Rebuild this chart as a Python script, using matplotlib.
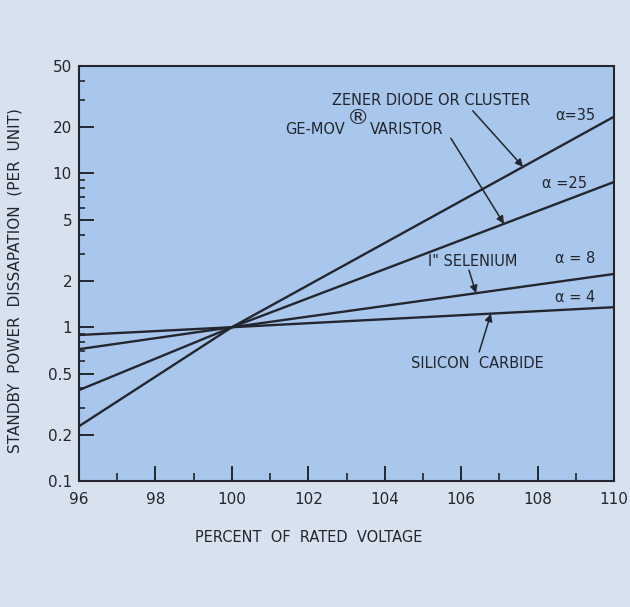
import numpy as np
import matplotlib
matplotlib.use('Agg')
import matplotlib.pyplot as plt
from matplotlib.ticker import FixedLocator, NullFormatter

# standby dissipation vs. voltage for each suppressor type (per unit, 1.0 at rated)
voltage = [96, 100, 110]
zener = [0.227, 1.0, 23.4]       # alpha = 35
ge_mov = [0.39, 1.0, 8.8]        # alpha = 25
selenium = [0.72, 1.0, 2.22]     # alpha = 8
sic = [0.89, 1.0, 1.35]          # alpha = 4

y_major = [0.1, 0.2, 0.5, 1, 2, 5, 10, 20, 50]
y_labels = ['0.1', '0.2', '0.5', '1', '2', '5', '10', '20', '50']
x_major = [96, 98, 100, 102, 104, 106, 108, 110]

ink = '#23262e'
fig_bg = '#d8e2ef'
ax_bg = '#a9c7ec'

fig = plt.figure(figsize=(6.3, 6.07), dpi=100, facecolor=fig_bg)
ax = fig.add_axes([0.1254, 0.2076, 0.8492, 0.6837], facecolor=ax_bg)

for series in (zener, ge_mov, selenium, sic):
    ax.plot(voltage, series, color=ink, lw=1.7, solid_capstyle='butt')

ax.set_yscale('log')
ax.set_xlim(96, 110)
ax.set_ylim(0.1, 50)

ax.yaxis.set_major_locator(FixedLocator(y_major))
ax.set_yticklabels(y_labels)
minor_y = [0.3, 0.4, 0.6, 0.7, 0.8, 0.9, 3, 4, 6, 7, 8, 9, 30, 40]
ax.yaxis.set_minor_locator(FixedLocator(minor_y))
ax.yaxis.set_minor_formatter(NullFormatter())
ax.set_xticks(x_major)
ax.set_xticklabels([str(v) for v in x_major])
ax.set_xticks(np.arange(97, 110, 2), minor=True)

ax.tick_params(axis='both', which='major', direction='in', length=10.5, width=1.4,
               color=ink, labelcolor=ink, labelsize=11)
ax.tick_params(axis='y', which='minor', direction='in', length=4.5, width=1.2, color=ink)
ax.tick_params(axis='x', which='minor', direction='in', length=6, width=1.2, color=ink)
ax.tick_params(axis='x', which='major', pad=8)
ax.tick_params(axis='y', which='major', pad=5)
ax.tick_params(top=False, right=False, which='both')

for sp in ax.spines.values():
    sp.set_color(ink)
    sp.set_linewidth(1.5)

ax.set_xlabel('PERCENT  OF  RATED  VOLTAGE', color=ink, fontsize=10.5)
ax.set_ylabel('STANDBY  POWER  DISSAPATION  (PER  UNIT)', color=ink, fontsize=11)
ax.xaxis.set_label_coords(0.43, -0.118)
ax.yaxis.set_label_coords(-0.105, 0.482)


def on_line(series, x):
    # point on a curve, interpolated in log space
    return 10 ** np.interp(x, voltage, np.log10(series))


arrow = dict(arrowstyle='-|>', color=ink, lw=1.1, mutation_scale=11,
             shrinkA=0, shrinkB=0)
txt = dict(color=ink, fontsize=10.5, xycoords='axes fraction')

ax.annotate('', xy=(107.62, on_line(zener, 107.62)), xycoords='data',
            xytext=(0.736, 0.892), textcoords='axes fraction', arrowprops=arrow)
ax.annotate('', xy=(107.12, on_line(ge_mov, 107.12)), xycoords='data',
            xytext=(0.695, 0.826), textcoords='axes fraction', arrowprops=arrow)
ax.annotate('', xy=(106.39, on_line(selenium, 106.39)), xycoords='data',
            xytext=(0.729, 0.508), textcoords='axes fraction', arrowprops=arrow)
ax.annotate('', xy=(106.78, on_line(sic, 106.78)), xycoords='data',
            xytext=(0.748, 0.311), textcoords='axes fraction', arrowprops=arrow)

ax.annotate('ZENER DIODE OR CLUSTER', (0.473, 0.918), ha='left', va='center', **txt)
ax.annotate('GE-MOV', (0.385, 0.846), ha='left', va='center', **txt)
ax.annotate('\u00ae', (0.522, 0.874), ha='center', va='center', color=ink,
            fontsize=16, xycoords='axes fraction')
ax.annotate('VARISTOR', (0.544, 0.846), ha='left', va='center', **txt)
ax.annotate('I" SELENIUM', (0.736, 0.528), ha='center', va='center', **txt)
ax.annotate('SILICON  CARBIDE', (0.744, 0.284), ha='center', va='center', **txt)

ax.annotate('\u03b1=35', (0.927, 0.880), ha='center', va='center', **txt)
ax.annotate('\u03b1 =25', (0.908, 0.718), ha='center', va='center', **txt)
ax.annotate('\u03b1 = 8', (0.927, 0.535), ha='center', va='center', **txt)
ax.annotate('\u03b1 = 4', (0.927, 0.443), ha='center', va='center', **txt)

fig.savefig('out.png', dpi=100, facecolor=fig_bg)
